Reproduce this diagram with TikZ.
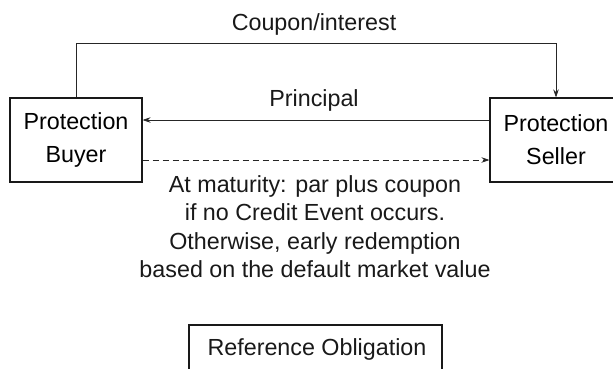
\documentclass[tikz,border=0pt]{standalone}
\usepackage{fontspec}
\setmainfont{Liberation Sans}
\usetikzlibrary{arrows.meta}
\begin{document}
\begin{tikzpicture}[x=1pt,y=-1pt,
  font=\fontsize{23.3}{33}\selectfont,
  party/.style={draw=black!90, line width=1.1pt, minimum width=132pt, minimum height=84pt, inner sep=0pt, align=center},
  lbl/.style={anchor=base, inner sep=0pt, text=black!90},
  conn/.style={draw=black!85, line width=0.8pt},
  tip/.style={-{Stealth[length=8pt,width=5.5pt]}}]
\clip (0,0) rectangle (613,368);
\useasboundingbox (0,0) rectangle (613,368);
\node[party] (buyer) at (76,140) {Protection\\Buyer};
\node[party] (seller) at (556,140) {Protection\\Seller};
\node[draw=black!90, line width=1.1pt, minimum width=253pt, minimum height=70pt, inner sep=0pt] (ref) at (315.5,360) {};
\node[lbl] (reftxt) at (317,355) {Reference Obligation};
\coordinate (cl) at (76,43);
\coordinate (cr) at (556,43);
\draw[conn, tip] (buyer.north) -- (cl) -- (cr) -- (seller.north);
\draw[conn, tip] ([yshift=20pt]seller.west) -- ([yshift=20pt]buyer.east);
\draw[conn, tip, dash pattern=on 6pt off 4pt] ([yshift=-20pt]buyer.east) -- ([yshift=-20pt]seller.west);
\node[lbl] (coupon) at (314,30) {Coupon/interest};
\node[lbl] (principal) at (314,106) {Principal};
\node[lbl, align=center, font=\fontsize{23.3}{28.5}\selectfont] (note) at (315,277.5) {At maturity: par plus coupon\\if no Credit Event occurs.\\Otherwise, early redemption\\based on the default market value};
\end{tikzpicture}
\end{document}
